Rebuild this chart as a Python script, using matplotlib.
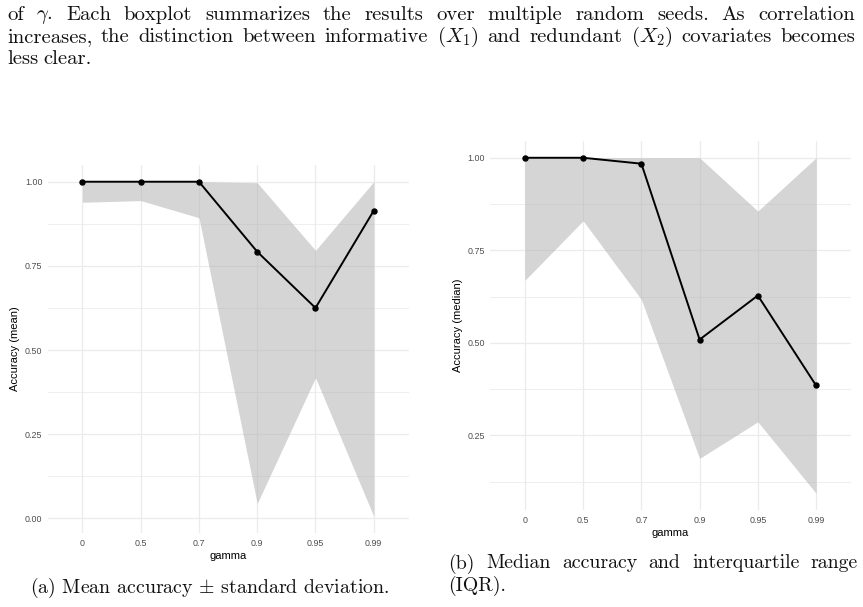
import numpy as np
import matplotlib
matplotlib.use("Agg")
import matplotlib.pyplot as plt

# categories on the x axis
gamma_labels = ["0", "0.5", "0.7", "0.9", "0.95", "0.99"]

# (a) mean accuracy with +/- sd band
mean_acc = [1.00, 1.00, 1.00, 0.792, 0.625, 0.914]
mean_lo = [0.939, 0.944, 0.893, 0.044, 0.418, 0.006]
mean_hi = [1.00, 1.00, 1.00, 0.997, 0.796, 1.00]

# (b) median accuracy with IQR band
median_acc = [1.00, 1.00, 0.984, 0.509, 0.628, 0.385]
q1 = [0.669, 0.830, 0.617, 0.188, 0.287, 0.094]
q3 = [1.00, 1.00, 1.00, 1.00, 0.856, 1.00]

body_lines = [
    ["of", r"$\gamma$.", "Each", "boxplot", "summarizes", "the", "results", "over",
     "multiple", "random", "seeds.", "As", "correlation"],
    ["increases,", "the", "distinction", "between", "informative", r"$(X_1)$", "and",
     "redundant", r"$(X_2)$", "covariates", "becomes"],
    ["less", "clear."],
]
cap_a = r"(a) Mean accuracy $\pm$ standard deviation."
cap_b = [["(b)", "Median", "accuracy", "and", "interquartile", "range"], ["(IQR)."]]

W, H = 863, 607
plt.rcParams["mathtext.fontset"] = "cm"
plt.rcParams["font.family"] = ["Liberation Sans", "DejaVu Sans"]
fig = plt.figure(figsize=(W / 100, H / 100), dpi=100)
serif = dict(family="cmr10", size=14.9, color="#111111")
serif_cap = dict(family="cmr10", size=14.3, color="#111111")


def px_rect(x0, y0, x1, y1):
    # pixel box (top-left origin) -> figure fraction
    return [x0 / W, 1 - y1 / H, (x1 - x0) / W, (y1 - y0) / H]


def panel(rect, y, lo, hi, ylabel):
    ax = fig.add_axes(rect)
    x = np.arange(len(gamma_labels))
    ax.fill_between(x, lo, hi, color="#b3b3b3", alpha=0.55, lw=0, zorder=2)
    ax.plot(x, y, color="black", lw=1.4, marker="o", ms=3.6, zorder=3)
    ymin, ymax = min(lo), max(hi)
    pad = 0.05 * (ymax - ymin)
    lim = (ymin - pad, ymax + pad)
    major = [v for v in np.arange(0, 1.01, 0.25) if lim[0] <= v <= lim[1]]
    minor = [v for v in np.arange(0.125, 1.01, 0.25) if lim[0] <= v <= lim[1]]
    ax.set_xticks(x, gamma_labels)
    ax.set_yticks(major, ["%.2f" % v for v in major])
    ax.set_yticks(minor, minor=True)
    ax.set_xlim(-0.6, len(x) - 0.4)
    ax.set_ylim(*lim)
    ax.grid(True, which="major", color="#ebebeb", lw=0.9, zorder=0)
    ax.grid(True, which="minor", axis="y", color="#ebebeb", lw=0.6, zorder=0)
    ax.set_axisbelow(True)
    for s in ax.spines.values():
        s.set_visible(False)
    ax.tick_params(which="both", length=0, labelsize=6.4, labelcolor="#4d4d4d")
    ax.tick_params(axis="y", pad=3.6)
    ax.tick_params(axis="x", pad=4.2)
    ax.set_xlabel("gamma", fontsize=8, color="black")
    ax.set_ylabel(ylabel, fontsize=8, color="black")
    ax.xaxis.set_label_coords(0.5, -23 / (rect[3] * H))
    ax.xaxis.label.set_va("center")
    ax.yaxis.set_label_coords(-32.5 / (rect[2] * W), 0.5)
    ax.yaxis.label.set_va("center")
    return ax


panel(px_rect(47.5, 165, 408.7, 533), mean_acc, mean_lo, mean_hi, "Accuracy (mean)")
panel(px_rect(490, 141, 851, 510), median_acc, q1, q3, "Accuracy (median)")

renderer = fig.canvas.get_renderer()


def justify(words, x0, x1, base, style, stretch=True):
    ts = [fig.text(0, 1 - base / H, w, va="baseline", ha="left", **style) for w in words]
    widths = [t.get_window_extent(renderer).width for t in ts]
    gap = (x1 - x0 - sum(widths)) / max(len(words) - 1, 1) if stretch else 5.5
    x = x0
    for t, w in zip(ts, widths):
        t.set_x(x / W)
        x += w + gap


justify(body_lines[0], 7, 855, 19.5, serif)
justify(body_lines[1], 7, 855, 42, serif)
justify(body_lines[2], 7, 855, 64.5, serif, stretch=False)

fig.text(209.5 / W, 1 - 593 / H, cap_a, ha="center", va="baseline", **serif_cap)
justify(cap_b[0], 448, 858, 568.5, serif_cap)
justify(cap_b[1], 448, 858, 591, serif_cap, stretch=False)

fig.savefig("out.png", dpi=100)
